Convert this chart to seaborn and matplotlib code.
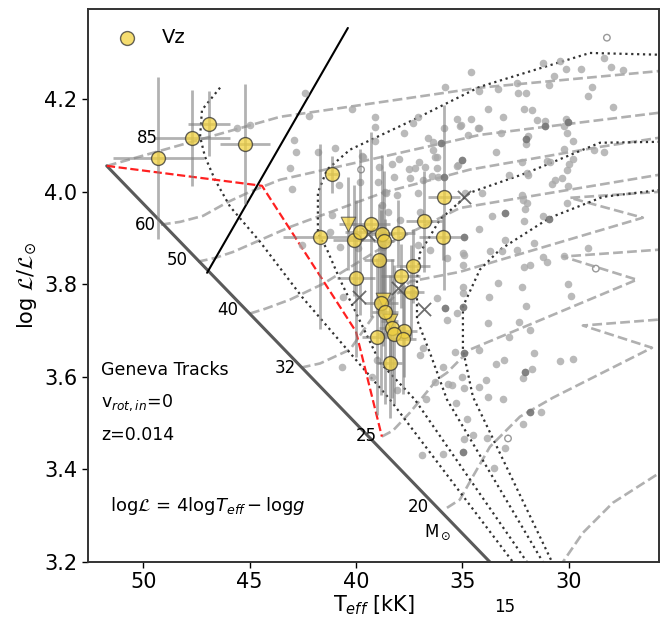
import matplotlib
matplotlib.use("Agg")
import matplotlib.pyplot as plt
import numpy as np
import pandas as pd
import seaborn as sns

sns.set_style("ticks")
plt.rcParams["font.family"] = ["DejaVu Sans"]
plt.rcParams["mathtext.fontset"] = "dejavusans"
plt.rcParams["text.color"] = "black"
plt.rcParams["axes.labelcolor"] = "black"
plt.rcParams["xtick.color"] = "black"
plt.rcParams["ytick.color"] = "black"

# ---------------- Vz sample (Teff in kK, log L/Lsun) ----------------
vz_teff = [49.29, 47.70, 46.90, 45.20, 41.11, 35.84, 36.82, 41.71, 40.09, 39.81,
           39.29, 38.79, 38.70, 38.02, 35.92, 38.91, 37.32, 39.99, 37.90, 37.40,
           38.80, 38.64, 38.30, 37.73, 38.20, 37.79, 39.00, 38.42]
vz_logl = [4.073, 4.116, 4.147, 4.104, 4.038, 3.988, 3.936, 3.903, 3.895, 3.913,
           3.930, 3.909, 3.894, 3.912, 3.903, 3.853, 3.840, 3.813, 3.818, 3.784,
           3.760, 3.741, 3.705, 3.699, 3.692, 3.682, 3.687, 3.631]
vz_teff_err = [2.15, 1.76, 1.0, 1.18, 0.25, 0.75, 0.85, 1.7, 1.0, 0.7,
               0.9, 0.6, 0.5, 0.8, 1.1, 0.7, 0.8, 0.9, 0.9, 0.6,
               0.8, 0.6, 0.6, 0.6, 0.8, 0.6, 0.7, 0.6]
vz_logl_err = [0.175, 0.104, 0.07, 0.13, 0.04, 0.2, 0.11, 0.2, 0.12, 0.18,
               0.2, 0.17, 0.15, 0.07, 0.05, 0.12, 0.08, 0.17, 0.07, 0.1,
               0.2, 0.2, 0.15, 0.1, 0.15, 0.12, 0.17, 0.12]

# Vz stars with lower limits (triangles)
vzlim_teff = [40.38, 38.73, 38.40]
vzlim_logl = [3.931, 3.767, 3.721]
vzlim_teff_err = [0.4, 0.4, 0.4]
vzlim_logl_err = [0.1, 0.1, 0.1]

# SB2 systems
sb2_teff = [39.44, 39.86, 38.02, 36.80, 34.92]
sb2_logl = [3.909, 3.773, 3.793, 3.747, 3.989]

# ---------------- comparison O-star sample ----------------
ostar_teff = [42.40, 42.92, 42.82, 43.10, 43.01, 42.21, 41.79, 40.19, 40.99, 39.72,
              39.11, 39.11, 39.11, 38.92, 39.81, 40.80, 37.74, 37.32, 37.09, 36.61,
              36.38, 36.19, 37.51, 37.23, 37.04, 36.76, 36.38, 36.19, 36.00, 35.86,
              35.82, 35.25, 35.11, 34.59, 34.59, 34.26, 34.73, 35.02, 35.20, 35.86,
              36.14, 36.85, 38.21, 38.59, 38.07, 34.22, 33.32, 32.43, 32.38, 32.01,
              31.21, 30.41, 30.69, 30.93, 30.13, 29.42, 28.34, 28.01, 27.45, 28.90,
              29.09, 27.92, 33.80, 35.06, 34.22, 33.09, 32.10, 31.72, 31.49, 31.11,
              31.11, 30.13, 30.03, 30.22, 30.08, 29.80, 31.91, 32.01, 32.01, 33.18,
              33.42, 32.20, 31.96, 31.91, 32.81, 31.02, 30.88, 30.22, 29.80, 30.08,
              29.99, 28.81, 28.34, 30.31, 30.64, 30.78, 30.03, 30.08, 32.20, 32.15,
              31.96, 34.08, 34.87, 32.05, 32.99, 33.61, 31.21, 32.10, 30.93, 34.92,
              34.22, 32.99, 31.63, 33.70, 33.13, 32.43, 30.22, 29.09, 31.21, 31.02,
              32.10, 31.82, 34.92, 33.32, 32.20, 30.03, 29.89, 34.97, 33.75, 32.01,
              33.80, 32.34, 31.82, 32.81, 34.22, 34.92, 31.63, 33.42, 33.04, 30.41,
              29.80, 32.05, 31.72, 32.15, 33.89, 34.92, 34.22, 33.80, 33.09, 36.71,
              35.49, 35.30, 34.78, 34.50, 34.92, 33.84, 34.97, 35.91, 36.90, 33.51,
              32.99, 32.15, 31.82, 31.30, 39.67, 38.31, 37.98, 36.29, 35.25, 38.97,
              37.46, 36.43, 38.64, 37.09, 41.13, 41.22, 40.75, 39.91, 38.73, 37.09,
              36.52, 34.97, 35.72, 34.97, 38.50, 37.93, 36.99, 38.78, 37.32, 36.19,
              35.72, 35.25, 34.97, 34.97, 35.82, 35.35, 35.91, 36.29, 36.99, 36.85,
              35.67, 35.02, 39.01, 39.25, 40.66, 38.07, 40.61, 45.59, 44.98, 42.54]
ostar_logl = [4.214, 4.112, 4.086, 4.052, 4.007, 4.164, 4.086, 4.179, 4.095, 4.078,
              4.162, 4.140, 4.110, 4.054, 4.022, 4.015, 4.127, 4.149, 4.162, 4.117,
              4.108, 4.052, 4.050, 4.052, 4.065, 4.054, 4.091, 4.076, 4.106, 4.138,
              4.227, 4.158, 4.143, 4.158, 4.259, 4.138, 4.123, 4.069, 4.058, 4.032,
              4.032, 4.026, 4.032, 3.998, 3.993, 4.218, 4.222, 4.235, 4.214, 4.214,
              4.279, 4.283, 4.251, 4.231, 4.266, 4.266, 4.289, 4.270, 4.264, 4.227,
              4.207, 4.184, 4.179, 4.145, 4.138, 4.162, 4.179, 4.177, 4.155, 4.153,
              4.143, 4.158, 4.151, 4.143, 4.127, 4.110, 4.121, 4.114, 4.104, 4.127,
              4.086, 4.065, 4.041, 4.037, 4.037, 4.067, 4.065, 4.093, 4.071, 4.048,
              4.060, 4.091, 4.086, 4.030, 4.026, 4.017, 4.013, 3.976, 3.993, 3.983,
              3.976, 3.998, 3.998, 3.963, 3.955, 3.948, 3.948, 3.937, 3.942, 3.903,
              3.920, 3.896, 3.890, 3.873, 3.873, 3.875, 3.862, 3.879, 3.860, 3.849,
              3.838, 3.842, 3.864, 3.803, 3.795, 3.801, 3.775, 3.795, 3.773, 3.754,
              3.717, 3.719, 3.702, 3.687, 3.659, 3.652, 3.652, 3.628, 3.637, 3.635,
              3.639, 3.611, 3.618, 3.598, 3.594, 3.575, 3.579, 3.557, 3.553, 3.553,
              3.583, 3.544, 3.510, 3.475, 3.465, 3.469, 3.438, 3.434, 3.432, 3.404,
              3.447, 3.499, 3.525, 3.525, 4.076, 4.060, 4.071, 4.076, 4.056, 4.022,
              4.030, 4.035, 4.000, 3.998, 3.950, 3.914, 3.881, 3.879, 3.881, 3.885,
              3.875, 3.868, 3.857, 3.842, 3.957, 3.940, 3.957, 3.972, 3.782, 3.771,
              3.724, 3.739, 3.782, 3.752, 3.749, 3.654, 3.622, 3.590, 3.648, 3.663,
              3.585, 3.600, 3.637, 3.600, 3.622, 3.572, 3.773, 4.138, 4.145, 3.885]

# binaries in the comparison sample
obin_teff = [36.00, 35.02, 35.86, 31.11, 30.03, 32.01, 32.99, 30.93, 34.92, 34.92,
             32.05, 34.97, 31.82, 34.97, 35.82]
obin_logl = [4.106, 4.069, 4.032, 4.143, 4.151, 4.114, 3.955, 3.942, 3.903, 3.652,
             3.611, 3.438, 3.525, 3.752, 3.749]

# stars with uncertain parameters (open symbols)
ounc_teff = [28.20, 39.76, 28.72, 32.85]
ounc_logl = [4.333, 4.048, 3.834, 3.467]

# ---------------- Geneva evolutionary tracks (z=0.014, no rotation) ----------------
trk_masses = ["85", "60", "50", "40", "32", "25", "20", "15"]
trk_teff = {
    "85": [51.71, 43.57, 34.17, 25.71],
    "60": [49.17, 48.27, 47.19, 46.02, 44.98, 43.57, 34.17, 25.71],
    "50": [47.43, 46.63, 45.78, 43.10, 38.73, 34.64, 28.53, 25.71],
    "40": [44.98, 44.28, 43.10, 41.55, 38.40, 35.11, 25.71],
    "32": [42.59, 41.69, 40.28, 39.20, 37.46, 35.11, 26.51, 29.94, 25.71],
    "25": [38.78, 38.26, 37.46, 36.19, 35.72, 34.64, 26.79, 30.27, 25.71],
    "20": [35.72, 35.11, 34.50, 33.70, 32.29, 30.74, 26.08, 29.33, 25.71],
    "15": [30.74, 30.27, 29.33, 27.92, 25.71],
}
trk_logl = {
    "85": [4.056, 4.162, 4.225, 4.261],
    "60": [3.929, 3.935, 3.948, 3.978, 4.000, 4.026, 4.123, 4.171],
    "50": [3.849, 3.857, 3.870, 3.924, 3.998, 4.048, 4.097, 4.117],
    "40": [3.737, 3.747, 3.767, 3.801, 3.890, 3.965, 4.037],
    "32": [3.620, 3.629, 3.659, 3.730, 3.806, 3.827, 3.944, 3.987, 4.000],
    "25": [3.471, 3.484, 3.523, 3.594, 3.609, 3.659, 3.810, 3.860, 3.875],
    "20": [3.317, 3.335, 3.385, 3.449, 3.514, 3.555, 3.663, 3.711, 3.724],
    "15": [3.162, 3.200, 3.263, 3.328, 3.393],
}
trk_label_teff = [49.83, 49.92, 48.42, 46.01, 43.34, 39.53, 37.09, 33.00]
trk_label_logl = [4.117, 3.929, 3.853, 3.745, 3.620, 3.473, 3.318, 3.103]

# isochrones
iso_teff = [
    [46.39, 47.24, 47.33, 47.10, 46.63, 45.92, 44.51, 42.54, 38.40, 32.62],
    [25.57, 29.00, 34.17, 37.32, 40.28, 41.36, 41.79, 41.79, 41.36, 40.75, 40.14, 38.87, 37.23, 31.96],
    [25.71, 28.53, 31.96, 34.64, 36.05, 36.99, 37.13, 37.13, 36.52, 35.72, 31.21],
    [25.71, 28.39, 30.88, 33.23, 34.17, 34.97, 34.97, 34.50, 30.78],
]
iso_logl = [
    [4.225, 4.177, 4.119, 4.076, 4.026, 3.968, 3.892, 3.773, 3.551, 3.200],
    [4.296, 4.300, 4.227, 4.155, 4.091, 4.048, 3.998, 3.911, 3.875, 3.810, 3.752, 3.631, 3.551, 3.200],
    [4.108, 4.106, 4.041, 3.998, 3.940, 3.868, 3.810, 3.724, 3.652, 3.551, 3.200],
    [4.004, 3.989, 3.944, 3.875, 3.832, 3.752, 3.659, 3.557, 3.200],
]

# ZAMS, upper envelope and other reference lines
zams_teff = [51.72, 33.70]
zams_logl = [4.056, 3.200]
edge_teff = [47.00, 40.38]
edge_logl = [3.825, 4.354]
red_teff = [51.71, 44.42, 40.00, 38.78]
red_logl = [4.056, 4.013, 3.698, 3.471]

# ---------------- figure ----------------
fig = plt.figure(figsize=(6.63, 6.19), dpi=100)
ax = fig.add_axes([88 / 663, 57 / 619, 571 / 663, 553 / 619])

for m in trk_masses:
    ax.plot(trk_teff[m], trk_logl[m], ls="--", color="#b0b0b0", lw=1.9, zorder=1)
for t, l in zip(iso_teff, iso_logl):
    ax.plot(t, l, ls=":", color="#333333", lw=1.6, zorder=1.5)

ax.plot(zams_teff, zams_logl, color="#5a5a5a", lw=2.2, zorder=2)
ax.plot(edge_teff, edge_logl, color="black", lw=1.5, zorder=2)
ax.plot(red_teff, red_logl, ls="--", color="#ff2020", lw=1.6, zorder=2)

ostar = pd.DataFrame({"teff": ostar_teff, "logl": ostar_logl})
sns.scatterplot(data=ostar, x="teff", y="logl", ax=ax, color="#a9a9a9", alpha=0.8,
                s=30, linewidth=0, zorder=2.5, legend=False)
obin = pd.DataFrame({"teff": obin_teff, "logl": obin_logl})
sns.scatterplot(data=obin, x="teff", y="logl", ax=ax, color="#555555", alpha=0.55,
                s=30, linewidth=0, zorder=2.6, legend=False)
ax.scatter(ounc_teff, ounc_logl, s=22, facecolors="none", edgecolors="#999999",
           linewidths=1.0, zorder=2.6)

ax.errorbar(vz_teff, vz_logl, xerr=vz_teff_err, yerr=vz_logl_err, fmt="none",
            ecolor="gray", alpha=0.6, elinewidth=2, capsize=0, zorder=3)
ax.errorbar(vzlim_teff, vzlim_logl, xerr=vzlim_teff_err, yerr=vzlim_logl_err, fmt="none",
            ecolor="gray", alpha=0.6, elinewidth=2, capsize=0, zorder=3)

sb2 = pd.DataFrame({"teff": sb2_teff, "logl": sb2_logl})
sns.scatterplot(data=sb2, x="teff", y="logl", ax=ax, marker="x", color="#555555",
                s=90, linewidth=1.3, alpha=0.85, zorder=4, legend=False)

vz_face = "#f2d240"
vzlim = pd.DataFrame({"teff": vzlim_teff, "logl": vzlim_logl})
sns.scatterplot(data=vzlim, x="teff", y="logl", ax=ax, marker="v", color=vz_face,
                edgecolor="#444444", s=110, linewidth=0.8, alpha=0.75, zorder=5, legend=False)
vz = pd.DataFrame({"teff": vz_teff, "logl": vz_logl})
sns.scatterplot(data=vz, x="teff", y="logl", ax=ax, color=vz_face, edgecolor="#333333",
                s=100, linewidth=1.0, alpha=0.75, zorder=5, label="Vz")

for m, tx, ly in zip(trk_masses, trk_label_teff, trk_label_logl):
    ax.text(tx, ly, m, fontsize=12, ha="center", va="center", clip_on=False)
ax.text(36.15, 3.264, r"M$_\odot$", fontsize=12, ha="center", va="center")

ax.text(51.99, 3.6156, "Geneva Tracks", fontsize=12.5, ha="left", va="center")
ax.text(51.99, 3.544, r"v$_{rot,in}$=0", fontsize=12.5, ha="left", va="center")
ax.text(51.99, 3.475, "z=0.014", fontsize=12.5, ha="left", va="center")
ax.text(51.56, 3.32, r"log$\mathcal{L}$ = 4log$T_{eff}-$log$g$", fontsize=13,
        ha="left", va="center")

ax.set_xlim(52.60, 25.75)
ax.set_ylim(3.2, 4.395)
ax.set_xticks([50, 45, 40, 35, 30])
ax.set_yticks([3.2, 3.4, 3.6, 3.8, 4.0, 4.2])
ax.set_xticklabels(["50", "45", "40", "35", "30"])
ax.set_yticklabels(["3.2", "3.4", "3.6", "3.8", "4.0", "4.2"])
ax.tick_params(labelsize=15, direction="out", length=4, width=1)
ax.set_xlabel(r"T$_{eff}$ [kK]", fontsize=15, labelpad=1)
ax.set_ylabel(r"log $\mathcal{L}/\mathcal{L}_{\odot}$", fontsize=15)
for sp in ax.spines.values():
    sp.set_linewidth(1.4)
    sp.set_color("#333333")

ax.legend(loc="upper left", frameon=False, fontsize=14, handletextpad=0.8,
          borderaxespad=0.6)

fig.savefig("out.png", dpi=100)
